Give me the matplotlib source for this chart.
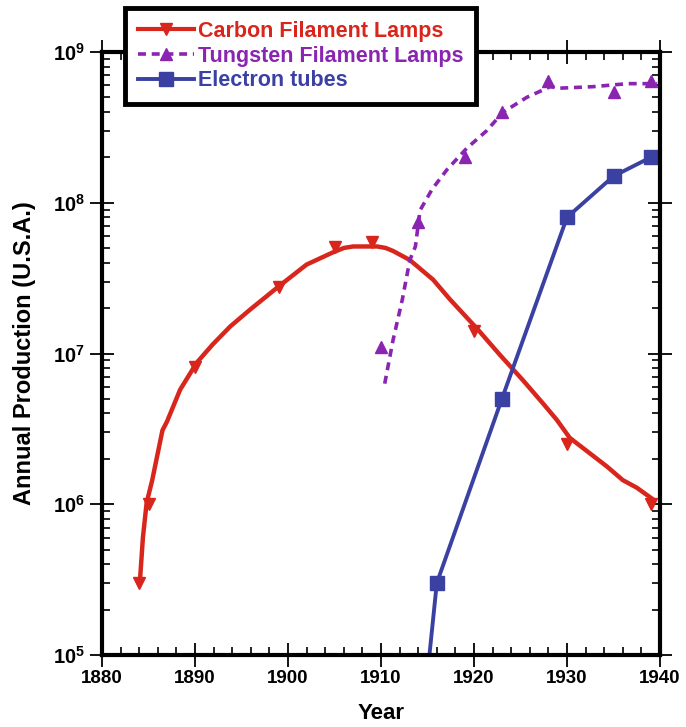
import numpy as np
import matplotlib
matplotlib.use("Agg")
from matplotlib import pyplot as plt
from matplotlib.lines import Line2D
from matplotlib.ticker import LogLocator, MultipleLocator, FixedLocator

plt.rcParams['font.family'] = ['Liberation Sans', 'DejaVu Sans']
plt.rcParams['font.weight'] = 'bold'
plt.rcParams['mathtext.fontset'] = 'custom'
plt.rcParams['mathtext.rm'] = 'Liberation Sans:bold'
plt.rcParams['mathtext.bf'] = 'Liberation Sans:bold'

# carbon filament lamps: data points and smooth curve
carbon_yr = [1884, 1885, 1890, 1899, 1905, 1909, 1920, 1930, 1939]
carbon_val = [3.0e5, 1.0e6, 8.1e6, 2.75e7, 5.1e7, 5.5e7, 1.4e7, 2.5e6, 1.0e6]
carbon_fit_yr = [1884.1, 1884.4, 1884.8, 1885.4, 1886.5, 1887.0, 1888.4, 1890.2, 1891.9,
                 1893.8, 1895.9, 1899.1, 1902.0, 1904.8, 1906.0, 1907.0, 1909.6, 1910.5,
                 1911.3, 1913.1, 1915.6, 1917.4, 1920.4, 1922.8, 1925.3, 1927.4, 1928.9,
                 1930.3, 1932.2, 1934.3, 1936.0, 1937.5, 1939.3]
carbon_fit_log = [5.51, 5.78, 6.01, 6.16, 6.49, 6.55, 6.76, 6.94, 7.06,
                  7.18, 7.29, 7.45, 7.59, 7.67, 7.70, 7.71, 7.71, 7.70,
                  7.68, 7.62, 7.49, 7.36, 7.16, 6.99, 6.82, 6.67, 6.56,
                  6.44, 6.35, 6.25, 6.16, 6.11, 6.03]

# tungsten filament lamps
tung_yr = [1910, 1914, 1919, 1923, 1928, 1935, 1939]
tung_val = [1.1e7, 7.5e7, 2.0e8, 4.0e8, 6.4e8, 5.4e8, 6.4e8]
tung_fit_yr = [1910.4, 1911.3, 1912.3, 1913.1, 1913.7, 1914.2, 1915.5, 1917.1, 1919.2,
               1921.4, 1923.1, 1925.7, 1928.2, 1929.2, 1932.8, 1936.5, 1939.7]
tung_fit_log = [6.80, 7.09, 7.36, 7.62, 7.71, 7.95, 8.09, 8.22, 8.36,
                8.48, 8.60, 8.70, 8.77, 8.76, 8.77, 8.79, 8.79]

# electron tubes
tube_yr = [1915, 1916, 1923, 1930, 1935, 1939]
tube_val = [7.5e4, 3.0e5, 5.0e6, 8.0e7, 1.5e8, 2.0e8]

red = '#d9261c'
purple = '#8a25b1'
blue = '#3a41a2'

fig = plt.figure(figsize=(6.86, 7.27), dpi=100)
ax = fig.add_axes([102/686, 1-655/727, 558/686, 603/727])

ax.plot(carbon_fit_yr, 10**np.array(carbon_fit_log), color=red, lw=3.2,
        solid_joinstyle='round')
ax.plot(carbon_yr, carbon_val, 'v', color=red, ms=9, ls='none')

ax.plot(tung_fit_yr, 10**np.array(tung_fit_log), color=purple, lw=2.6, ls=(0, (2.2, 1.6)))
ax.plot(tung_yr, tung_val, '^', color=purple, ms=8, ls='none')

ax.plot(tube_yr, tube_val, color=blue, lw=2.8, marker='s', ms=9.5,
        markevery=list(range(1, len(tube_yr))))

ax.set_yscale('log')
ax.set_xlim(1880, 1940)
ax.set_ylim(1e5, 1e9)
ax.xaxis.set_major_locator(MultipleLocator(10))
ax.xaxis.set_minor_locator(MultipleLocator(2))
ax.yaxis.set_major_locator(FixedLocator([1e5, 1e6, 1e7, 1e8, 1e9]))
ax.yaxis.set_minor_locator(LogLocator(base=10, subs=np.arange(2, 10)))
ax.set_yticklabels([r'$\mathbf{10^{%d}}$' % k for k in range(5, 10)])
ax.yaxis.set_minor_formatter(plt.NullFormatter())

for s in ax.spines.values():
    s.set_linewidth(3)
ax.tick_params(which='major', direction='inout', length=17, width=1.3,
               top=True, right=True, labelsize=13.5, pad=2)
ax.tick_params(which='minor', direction='in', length=6, width=1.2, top=True, right=True)
ax.tick_params(axis='y', which='major', labelsize=14.5, pad=4)
for lab in ax.get_xticklabels():
    lab.set_fontweight('bold')

ax.set_xlabel('Year', fontsize=16, fontweight='bold', labelpad=12)
ax.set_ylabel('Annual Production (U.S.A.)', fontsize=17, fontweight='bold', labelpad=12)

handles = [
    Line2D([], [], color=red, lw=3, marker='v', ms=9),
    Line2D([], [], color=purple, lw=2.6, ls=(0, (2.2, 1.6)), marker='^', ms=8),
    Line2D([], [], color=blue, lw=2.8, marker='s', ms=9.5),
]
labels = ['Carbon Filament Lamps', 'Tungsten Filament Lamps', 'Electron tubes']
leg = ax.legend(handles, labels, loc='upper left', bbox_to_anchor=(0.041, 1.073),
                fancybox=False, shadow=False, framealpha=1, edgecolor='black',
                handlelength=2.6, borderpad=0.6, labelspacing=0.17, handletextpad=0.2,
                borderaxespad=0, prop={'size': 15.5, 'weight': 'bold'})
leg.get_frame().set_linewidth(3.5)
for txt, c in zip(leg.get_texts(), [red, purple, blue]):
    txt.set_color(c)

fig.savefig('out.png', dpi=100)
